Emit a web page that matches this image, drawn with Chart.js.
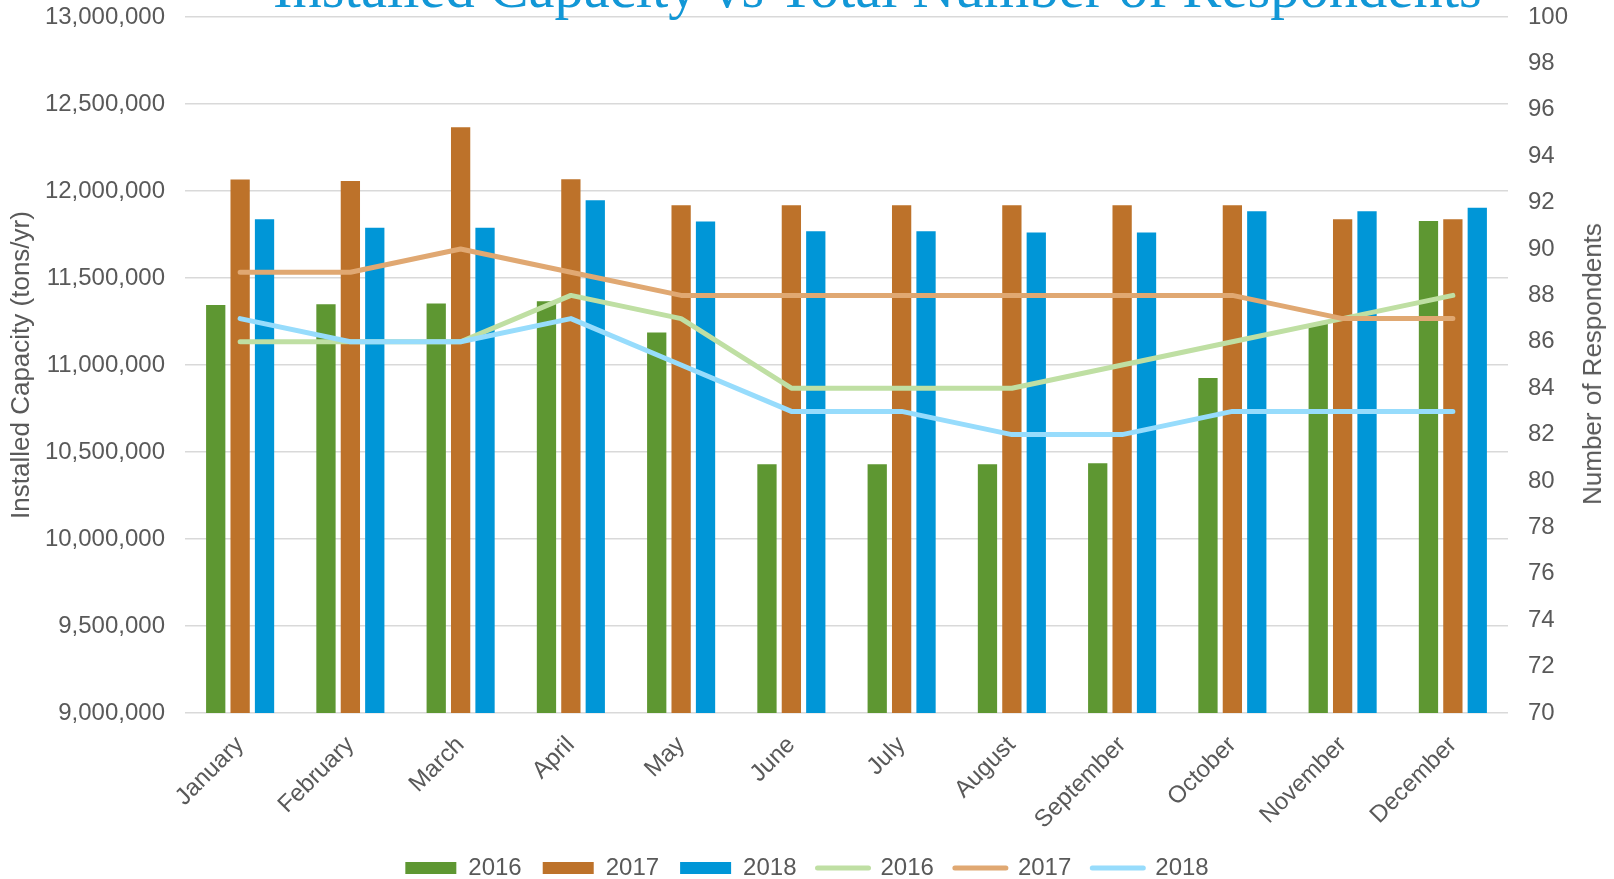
<!DOCTYPE html>
<html>
<head>
<meta charset="utf-8">
<script src="https://cdn.jsdelivr.net/npm/chart.js@4.4.1/dist/chart.umd.min.js"></script>
<style>
  html, body { margin: 0; padding: 0; background: #ffffff; overflow: hidden; }
  #wrap { position: relative; width: 1614px; height: 879px; overflow: hidden; }
  #chart { position: absolute; left: 0; top: 0; }
  #title {
    position: absolute; left: 273px; top: -41px; z-index: 2;
    font-family: "Liberation Serif", "Times New Roman", serif;
    font-size: 58.6px; line-height: 58px; color: #1297D6; white-space: nowrap;
  }
  #rtitle {
    position: absolute; left: 1592px; top: 364px; z-index: 2;
    transform: translate(-50%, -50%) rotate(-90deg);
    font-family: "Liberation Sans", Arial, sans-serif;
    font-size: 26px; line-height: 30px; color: #595959; white-space: nowrap;
  }
</style>
</head>
<body>
<div id="wrap">
  <canvas id="chart" width="1614" height="879"></canvas>
  <div id="title">Installed Capacity vs Total Number of Respondents</div>
  <div id="rtitle">Number of Respondents</div>
</div>
<script>
const months = ["January","February","March","April","May","June","July","August","September","October","November","December"];

const capacity2016 = [11345000, 11349000, 11353000, 11366000, 11187000, 10430000, 10430000, 10430000, 10436000, 10926000, 11235000, 11827000];
const capacity2017 = [12066000, 12058000, 12366000, 12068000, 11918000, 11918000, 11918000, 11918000, 11918000, 11918000, 11837000, 11837000];
const capacity2018 = [11837000, 11789000, 11789000, 11947000, 11824000, 11768000, 11768000, 11762000, 11762000, 11883000, 11883000, 11904000];

const respondents2016 = [86, 86, 86, 88, 87, 84, 84, 84, 85, 86, 87, 88];
const respondents2017 = [89, 89, 90, 89, 88, 88, 88, 88, 88, 88, 87, 87];
const respondents2018 = [87, 86, 86, 87, 85, 83, 83, 82, 82, 83, 83, 83];

const seriesNames = ["2016", "2017", "2018"];

const capacityTicks = { min: 9000000, max: 13000000, step: 500000 };
const respondentTicks = { min: 70, max: 100, step: 2 };

const barColors = ["#5E9732", "#BD722A", "#0096D7"];
const lineColors = ["#BFDFA3", "#E0A872", "#97DCFC"];
const TXT = "#595959";
const FONT = "'Liberation Sans', Arial, sans-serif";

function barDs(label, data, color) {
  return {
    type: "bar", label, data, yAxisID: "y", order: 5,
    backgroundColor: color, borderColor: color, borderWidth: 0,
    categoryPercentage: 0.664, barPercentage: 0.79,
    pointStyle: "rect"
  };
}
function lineDs(label, data, color, order) {
  return {
    type: "line", label, data, yAxisID: "y1", order,
    borderColor: color, backgroundColor: color, borderWidth: 5,
    borderCapStyle: "round", borderJoinStyle: "round",
    pointRadius: 0, pointHoverRadius: 0, tension: 0, fill: false,
    pointStyle: "line"
  };
}

const datasets = [
  barDs(seriesNames[0], capacity2016, barColors[0]),
  barDs(seriesNames[1], capacity2017, barColors[1]),
  barDs(seriesNames[2], capacity2018, barColors[2]),
  lineDs(seriesNames[0], respondents2016, lineColors[0], 2),
  lineDs(seriesNames[1], respondents2017, lineColors[1], 1),
  lineDs(seriesNames[2], respondents2018, lineColors[2], 0)
];

function fixVertical(width) {
  return function (s) {
    s.width = width;
    s.paddingTop = 0;
    s.paddingBottom = 0;
  };
}

new Chart(document.getElementById("chart"), {
  data: { labels: months, datasets },
  options: {
    responsive: false,
    animation: false,
    devicePixelRatio: 1,
    layout: { padding: { top: 17, left: 0, right: 0, bottom: -11 } },
    plugins: {
      title: { display: false },
      tooltip: { enabled: false },
      legend: {
        display: true,
        position: "bottom",
        labels: {
          usePointStyle: true,
          pointStyleWidth: 51,
          boxHeight: 12,
          padding: 21,
          color: TXT,
          font: { family: FONT, size: 24 },
          sort: (a, b) => a.datasetIndex - b.datasetIndex,
          generateLabels(chart) {
            const items = Chart.defaults.plugins.legend.labels.generateLabels(chart);
            items.forEach(it => {
              const ds = chart.data.datasets[it.datasetIndex];
              if (ds.type === "line") {
                it.lineCap = "round";
                it.lineWidth = 5;
                it.strokeStyle = ds.borderColor;
                it.pointStyle = "line";
              } else {
                it.lineWidth = 0;
                it.pointStyle = "rect";
              }
            });
            return items;
          }
        }
      }
    },
    scales: {
      x: {
        type: "category",
        offset: true,
        grid: { display: false, drawTicks: false },
        border: { display: false },
        ticks: {
          autoSkip: false, minRotation: 45, maxRotation: 45,
          padding: 18, color: TXT, font: { family: FONT, size: 24 }
        },
        afterFit(s) { s.height = 122; }
      },
      y: {
        type: "linear", position: "left",
        min: capacityTicks.min, max: capacityTicks.max,
        grid: { color: "#D9D9D9", lineWidth: 1.5, drawTicks: false },
        border: { display: false },
        ticks: {
          stepSize: capacityTicks.step, padding: 20, color: TXT,
          font: { family: FONT, size: 24 },
          callback: v => Number(v).toLocaleString("en-US")
        },
        title: {
          display: true, text: "Installed Capacity (tons/yr)", color: TXT,
          font: { family: FONT, size: 26 }, padding: { top: 6, bottom: 0 }
        },
        afterFit: fixVertical(185)
      },
      y1: {
        type: "linear", position: "right",
        min: respondentTicks.min, max: respondentTicks.max,
        grid: { display: false, drawTicks: false },
        border: { display: false },
        ticks: {
          stepSize: respondentTicks.step, padding: 20, color: TXT,
          font: { family: FONT, size: 24 }
        },
        afterFit: fixVertical(106)
      }
    }
  }
});
</script>
</body>
</html>
